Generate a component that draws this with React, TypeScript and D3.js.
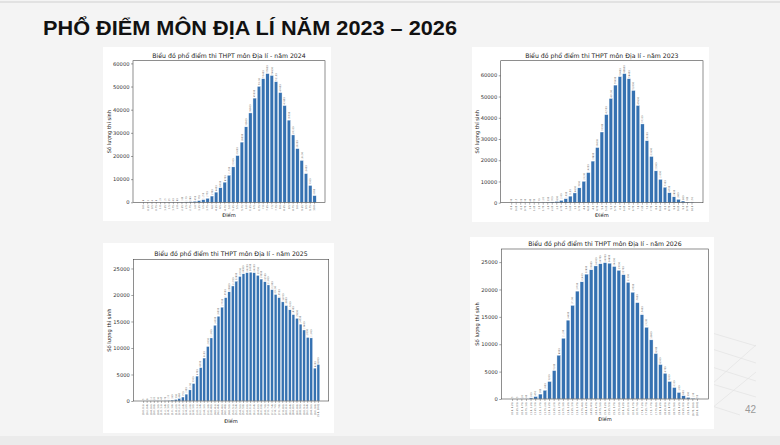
import { useEffect, useRef } from "react";
import * as d3 from "d3";

// bin counts
const scores2024 = [
  8, 3, 4, 6, 10, 15, 25, 40, 60, 100, 170, 280, 450, 750, 1150, 1750, 2700,
  4400, 6300, 8700, 11700, 15300, 20200, 26000, 32600, 38600, 45000, 50100,
  53400, 55600, 54800, 52100, 47400, 41800, 35500, 29100, 23200, 18100, 12400,
  7300, 2900,
];
const scores2023 = [
  30, 15, 20, 30, 40, 50, 70, 120, 200, 350, 600, 1100, 1900, 3100, 4600, 7000,
  10100, 14200, 19600, 26000, 33300, 41500, 49100, 55400, 59400, 60800, 58400,
  52900, 45800, 37100, 29200, 21800, 15000, 11000, 7300, 4700, 2800, 1600, 800,
  300, 150,
];
const scores2025 = [
  5, 8, 12, 20, 30, 45, 70, 110, 180, 300, 480, 750, 1300, 2100, 3300, 4700,
  6300, 8100, 10300, 11900, 14300, 16000, 17700, 19500, 20600, 21700, 22600,
  23500, 24000, 24200, 24300, 24200, 23700, 23000, 22500, 21900, 21000, 20100,
  19500, 18700, 18000, 17200, 16300, 15600, 14500, 13400, 12000, 11900, 6200,
  6900,
];
const scores2026 = [
  5, 5, 20, 40, 200, 450, 900, 1600, 3200, 5200, 8000, 11100, 14400, 17100,
  19700, 21400, 22800, 23600, 24300, 24700, 24900, 24800, 24200, 23500, 22700,
  21300, 19500, 17600, 15400, 13100, 10800, 8300, 6300, 4700, 3200, 2100, 1200,
  600, 300, 130, 50,
];

const fmt = (v: number) => (v % 1 === 0 ? v.toFixed(1) : String(v));
const labelsQuarter = d3.range(41).map((i) => fmt(i * 0.25));
const labels2025 = d3
  .range(50)
  .map((i) =>
    i === 49
      ? "[9.8, 10.0]"
      : `[${(i * 0.2).toFixed(1)}, ${((i + 1) * 0.2).toFixed(1)})`
  );
const labels2026 = d3
  .range(41)
  .map((i) => (i === 40 ? "[10.0, 10.0]" : `[${fmt(i * 0.25)}, ${fmt((i + 1) * 0.25)})`));

const ticks60k = [0, 10000, 20000, 30000, 40000, 50000, 60000];
const ticks25k = [0, 5000, 10000, 15000, 20000, 25000];

const FONT = "DejaVu Sans, sans-serif";
const BLUE = "#3571b1";

type Box = { x: number; y: number; w: number; h: number };
type Axes = { left: number; top: number; right: number; bottom: number };

function Panel({
  box,
  axes,
  title,
  values,
  labels,
  yTicks,
}: {
  box: Box;
  axes: Axes;
  title: string;
  values: number[];
  labels: string[];
  yTicks: number[];
}) {
  const ref = useRef<SVGGElement>(null);

  useEffect(() => {
    const g = d3.select(ref.current);
    g.selectAll("*").remove();

    const n = values.length;
    const margin = 0.05 * (n - 1 + 0.8);
    const x = d3
      .scaleLinear()
      .domain([-0.4 - margin, n - 1 + 0.4 + margin])
      .range([axes.left, axes.right]);
    const y = d3
      .scaleLinear()
      .domain([0, (d3.max(values) as number) * 1.1])
      .range([axes.bottom, axes.top]);

    g.append("rect")
      .attr("x", box.x)
      .attr("y", box.y)
      .attr("width", box.w)
      .attr("height", box.h)
      .attr("fill", "#ffffff");

    // bars
    g.selectAll(".bar")
      .data(values)
      .enter()
      .append("rect")
      .attr("x", (d, i) => x(i - 0.4))
      .attr("width", x(0.8) - x(0))
      .attr("y", (d) => y(d))
      .attr("height", (d) => y(0) - y(d))
      .attr("fill", BLUE)
      .attr("stroke", "#ffffff")
      .attr("stroke-width", 0.4);

    // value labels
    g.selectAll(".val")
      .data(values)
      .enter()
      .append("text")
      .attr("transform", (d, i) => `translate(${x(i) + 0.8},${y(d) - 1}) rotate(-90)`)
      .attr("font-size", 2.3)
      .attr("font-family", FONT)
      .attr("fill", "#555")
      .text((d) => d);

    // frame
    g.append("rect")
      .attr("x", axes.left)
      .attr("y", axes.top)
      .attr("width", axes.right - axes.left)
      .attr("height", axes.bottom - axes.top)
      .attr("fill", "none")
      .attr("stroke", "#444")
      .attr("stroke-width", 0.6);

    // y axis
    const yAxis = d3.axisLeft(y).tickValues(yTicks).tickSize(2).tickPadding(1.5).tickFormat(d3.format("d"));
    const ya = g.append("g").attr("transform", `translate(${axes.left},0)`).call(yAxis);
    ya.select(".domain").remove();
    ya.selectAll("line").attr("stroke", "#444").attr("stroke-width", 0.5);
    ya.selectAll("text").attr("font-size", 5.2).attr("font-family", FONT).attr("fill", "#333");

    // x axis
    const xa = g.append("g").attr("transform", `translate(0,${axes.bottom})`);
    xa.selectAll("line")
      .data(labels)
      .enter()
      .append("line")
      .attr("x1", (d, i) => x(i))
      .attr("x2", (d, i) => x(i))
      .attr("y1", 0)
      .attr("y2", 2)
      .attr("stroke", "#444")
      .attr("stroke-width", 0.4);
    xa.selectAll("text")
      .data(labels)
      .enter()
      .append("text")
      .attr("transform", (d, i) => `translate(${x(i) + 0.8},3) rotate(-90)`)
      .attr("text-anchor", "end")
      .attr("font-size", 2.4)
      .attr("font-family", FONT)
      .attr("fill", "#555")
      .text((d) => d);

    // titles
    g.append("text")
      .attr("x", (axes.left + axes.right) / 2)
      .attr("y", axes.top - 3)
      .attr("text-anchor", "middle")
      .attr("font-size", 6.2)
      .attr("font-family", FONT)
      .attr("fill", "#222")
      .text(title);
    const xLabelY = axes.bottom + (labels[0].length > 5 ? 22 : 14.5);
    g.append("text")
      .attr("x", (axes.left + axes.right) / 2)
      .attr("y", xLabelY)
      .attr("text-anchor", "middle")
      .attr("font-size", 5.2)
      .attr("font-family", FONT)
      .attr("fill", "#222")
      .text("Điểm");
    g.append("text")
      .attr("transform", `translate(${axes.left - 22},${(axes.top + axes.bottom) / 2}) rotate(-90)`)
      .attr("text-anchor", "middle")
      .attr("font-size", 5.2)
      .attr("font-family", FONT)
      .attr("fill", "#222")
      .text("Số lượng thí sinh");
  }, []);

  return <g ref={ref} />;
}

export default function App() {
  return (
    <svg
      width={780}
      height={445}
      style={{ position: "absolute", left: 0, top: 0 }}
    >
      <rect x={0} y={0} width={780} height={445} fill="#f4f4f4" />
      <rect x={0} y={436} width={780} height={9} fill="#ebebeb" />
      <line x1={0} y1={2} x2={780} y2={2} stroke="#dcdcdc" strokeWidth={1.5} />
      <g stroke="#e2e2e2" strokeWidth={0.7}>
        <line x1={712} y1={333} x2={756} y2={346} />
        <line x1={712} y1={349} x2={756} y2={363} />
        <line x1={712} y1={367} x2={756} y2={381} />
        <line x1={712} y1={384} x2={756} y2={397} />
        <line x1={712} y1={406} x2={740} y2={415} />
        <line x1={712} y1={384} x2={756} y2={345} />
        <line x1={712} y1={408} x2={756} y2={372} />
      </g>
      <text
        x={43}
        y={35}
        fontFamily="Liberation Sans Narrow, Liberation Sans, sans-serif"
        fontWeight="bold"
        fontSize={21}
        textLength={414}
        lengthAdjust="spacingAndGlyphs"
        fill="#111"
      >
        PHỔ ĐIỂM MÔN ĐỊA LÍ NĂM 2023 – 2026
      </text>
      <Panel
        box={{ x: 103, y: 47, w: 228, h: 174 }}
        axes={{ left: 133, top: 60.7, right: 325, bottom: 202.3 }}
        title="Biểu đồ phổ điểm thi THPT môn Địa lí - năm 2024"
        values={scores2024}
        labels={labelsQuarter}
        yTicks={ticks60k}
      />
      <Panel
        box={{ x: 472, y: 47, w: 237, h: 175 }}
        axes={{ left: 500.7, top: 60.7, right: 703, bottom: 202.7 }}
        title="Biểu đồ phổ điểm thi THPT môn Địa lí - năm 2023"
        values={scores2023}
        labels={labelsQuarter}
        yTicks={ticks60k}
      />
      <Panel
        box={{ x: 103, y: 243, w: 231, h: 190 }}
        axes={{ left: 133.3, top: 259.3, right: 328.7, bottom: 401 }}
        title="Biểu đồ phổ điểm thi THPT môn Địa lí - năm 2025"
        values={scores2025}
        labels={labels2025}
        yTicks={ticks25k}
      />
      <Panel
        box={{ x: 470, y: 237, w: 244, h: 192 }}
        axes={{ left: 501.3, top: 249, right: 708.7, bottom: 399 }}
        title="Biểu đồ phổ điểm thi THPT môn Địa lí - năm 2026"
        values={scores2026}
        labels={labels2026}
        yTicks={ticks25k}
      />
      <text x={745} y={413} fontFamily="Liberation Sans, sans-serif" fontSize={10} fill="#999">
        42
      </text>
    </svg>
  );
}
